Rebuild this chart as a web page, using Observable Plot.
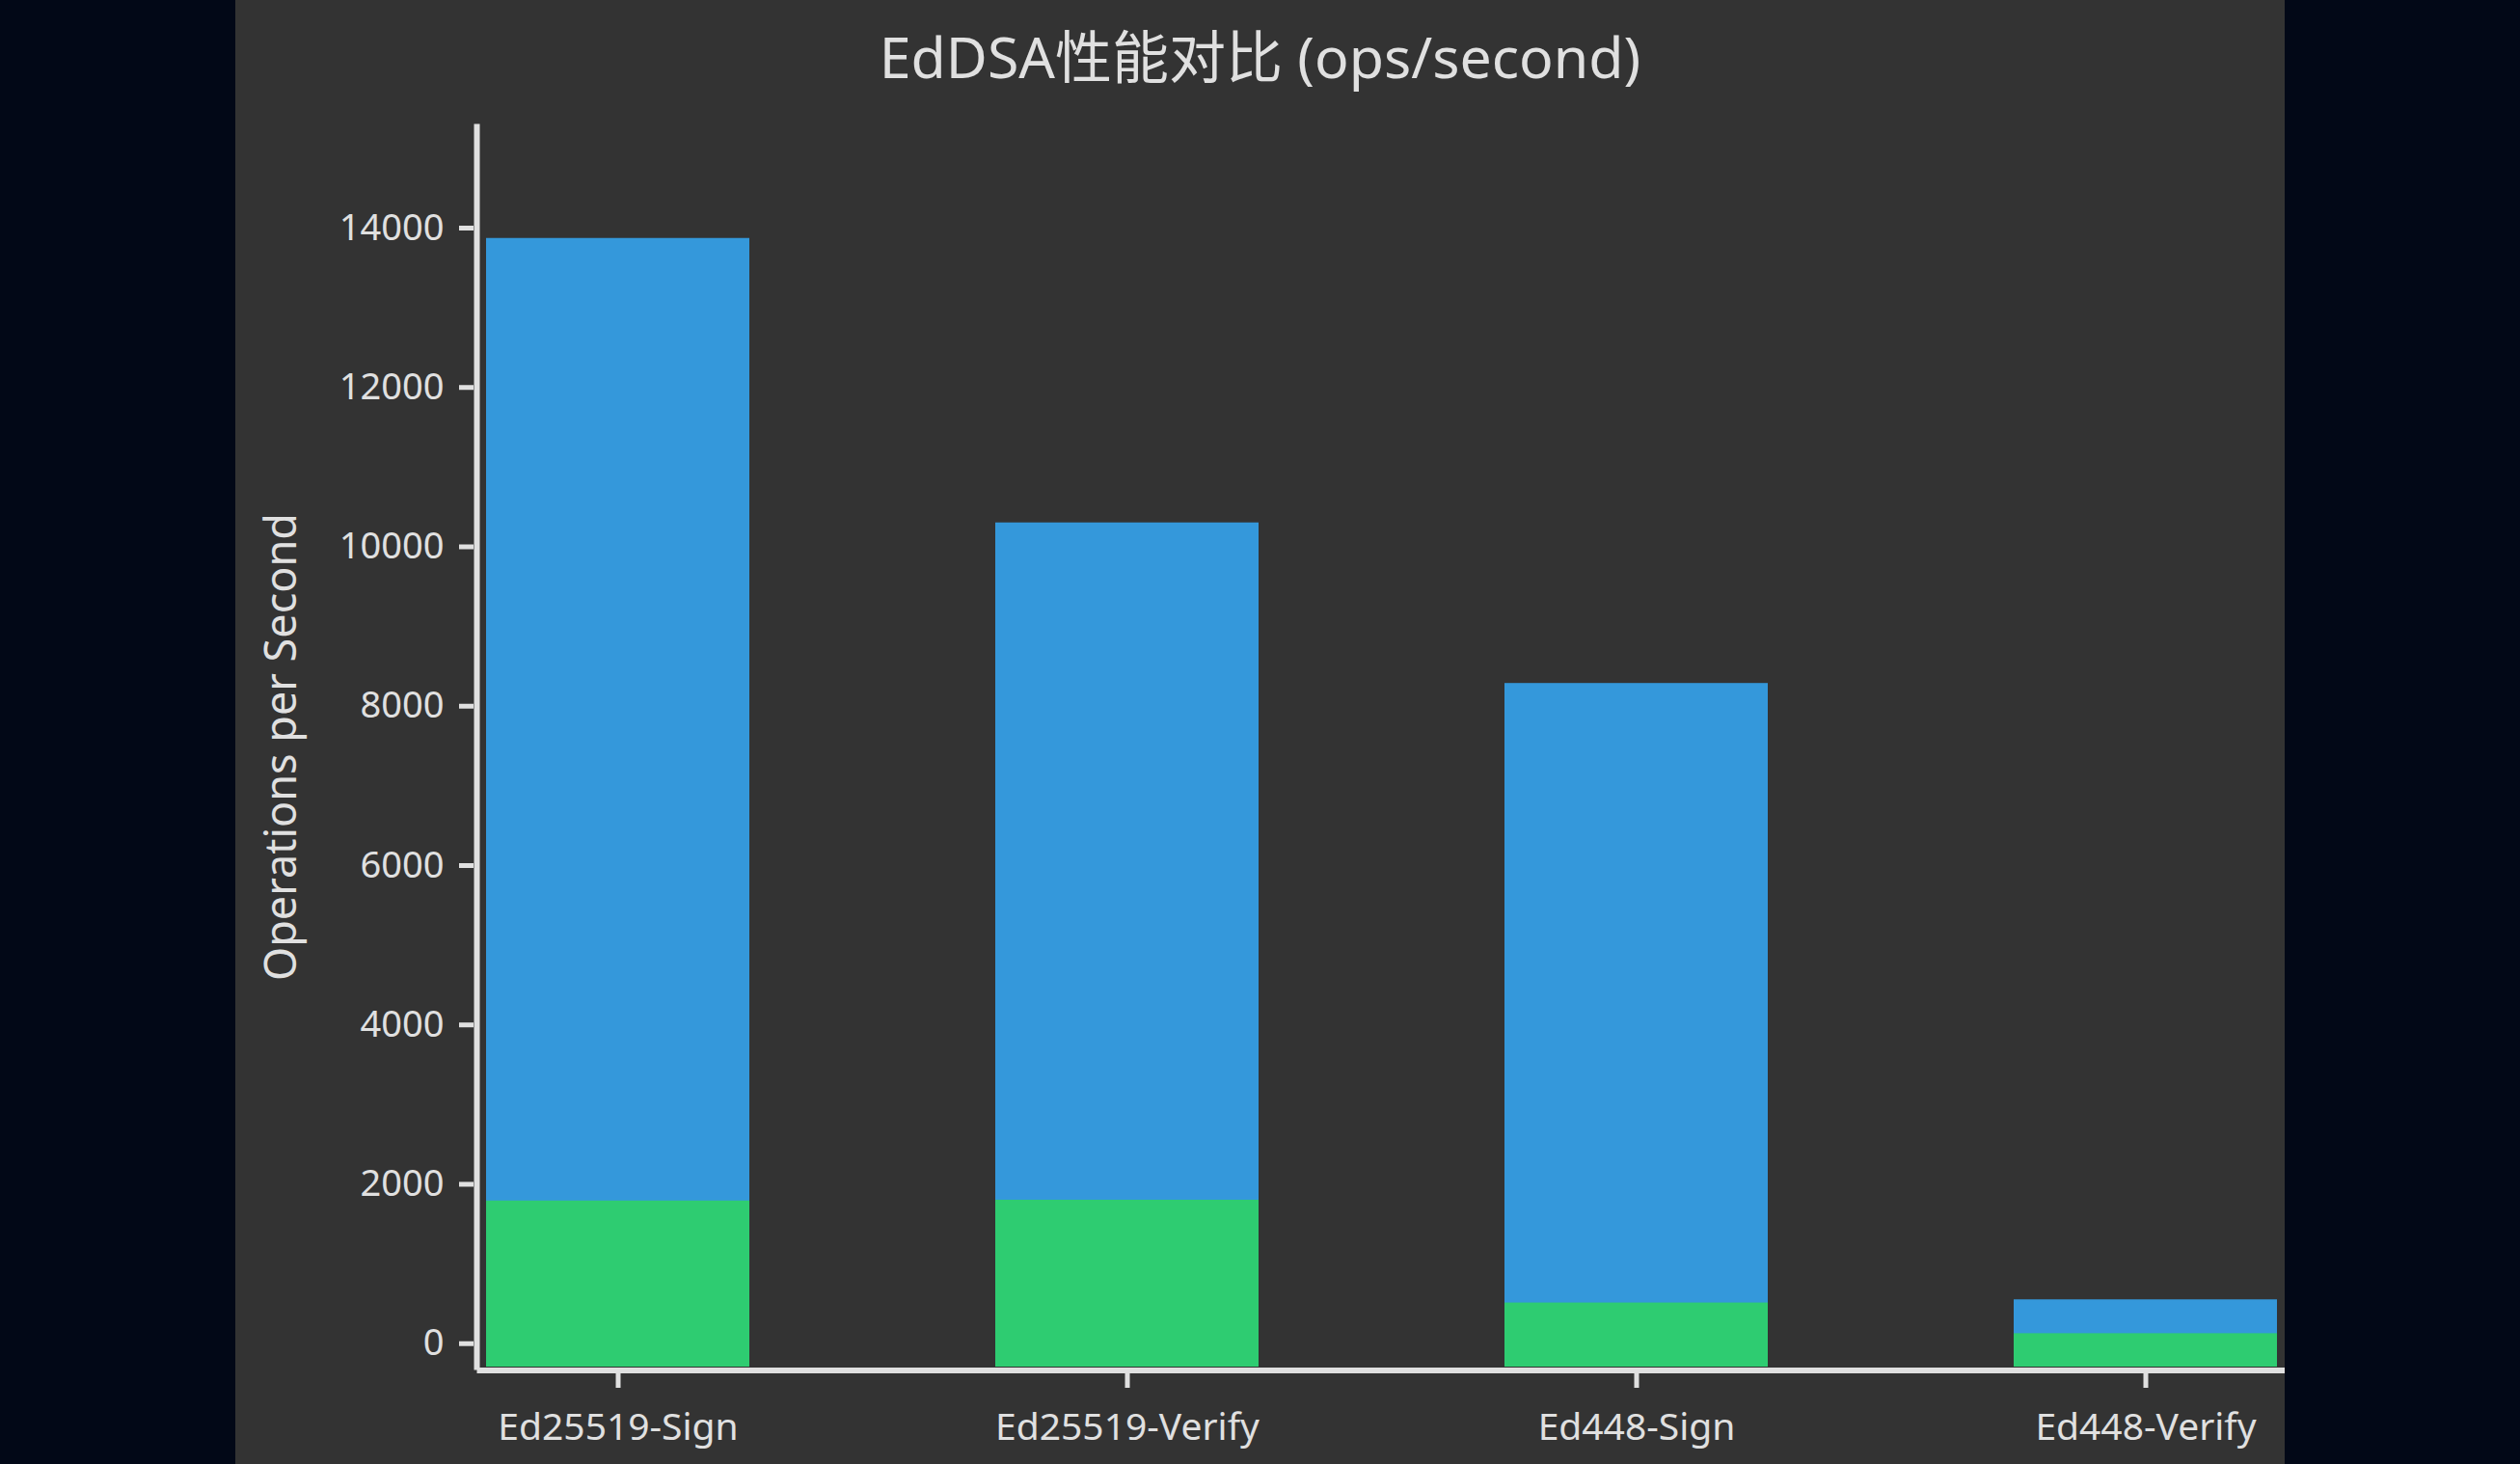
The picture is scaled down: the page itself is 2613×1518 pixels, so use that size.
<!DOCTYPE html>
<html>
<head>
<meta charset="utf-8">
<script src="https://cdn.jsdelivr.net/npm/d3@7"></script>
<script src="https://cdn.jsdelivr.net/npm/@observablehq/plot@0.6"></script>
<style>
  html, body { margin: 0; padding: 0; background: #020817; width: 2613px; height: 1518px; overflow: hidden; }
  #panel { position: absolute; left: 244px; top: 0; width: 2125px; height: 1518px; background: #333333; overflow: hidden; }
  #title { box-sizing: border-box; height: 120px; padding-top: 28px; line-height: 60px; text-align: center;
           font-family: "Noto Sans", "Noto Sans CJK SC", sans-serif; font-size: 59px; color: #e0e0e0; white-space: nowrap; }
  #chart svg { display: block; }
</style>
</head>
<body>
<div id="panel">
  <div id="title">EdDSA性能对比 (ops/second)</div>
  <div id="chart"></div>
</div>
<script>
const categories = ["Ed25519-Sign", "Ed25519-Verify", "Ed448-Sign", "Ed448-Verify"];
const totalOps = [13870, 10300, 8285, 550];
const baseOps = [1790, 1800, 510, 125];
const seriesNames = ["total", "base"];
const seriesColors = ["#3498db", "#2ecc71"];
const yTicks = [0, 2000, 4000, 6000, 8000, 10000, 12000, 14000];
const yDomain = [-294, 15271];
const yLabel = "Operations per Second";

const rows = [];
seriesNames.forEach((s, si) => {
  const vals = si === 0 ? totalOps : baseOps;
  categories.forEach((c, i) => rows.push({category: c, series: s, low: yDomain[0], value: vals[i]}));
});

const textColor = "#e0e0e0";
const chart = Plot.plot({
  width: 2125,
  height: 1398,
  marginLeft: 253,
  marginRight: 0,
  marginTop: 11,
  marginBottom: 101,
  style: {background: "#333333", color: textColor, fontFamily: "'Noto Sans', 'Noto Sans CJK SC', sans-serif", overflow: "visible"},
  x: {domain: categories, paddingInner: 0.4826, paddingOuter: 0.012, label: null},
  y: {domain: yDomain, label: null},
  color: {domain: seriesNames, range: seriesColors},
  marks: [
    Plot.barY(rows, {x: "category", y1: "low", y2: "value", fill: "series"}),
    Plot.frame({anchor: "left", stroke: textColor, strokeWidth: 6, dx: -3}),
    Plot.frame({anchor: "bottom", stroke: textColor, strokeWidth: 6, dy: 3.5}),
    Plot.axisY({ticks: yTicks, tickFormat: d => String(d), tickSize: 15, tickPadding: 16, dx: -6, fontSize: 38, color: textColor, strokeWidth: 5, label: null}),
    Plot.axisX({tickSize: 16, tickPadding: 26, dy: 6, fontSize: 39, color: textColor, strokeWidth: 5, label: null}),
    Plot.text([yLabel], {frameAnchor: "left", textAnchor: "middle", rotate: -90, dx: -205, fontSize: 45, fill: textColor})
  ]
});
document.getElementById("chart").appendChild(chart);
</script>
</body>
</html>
